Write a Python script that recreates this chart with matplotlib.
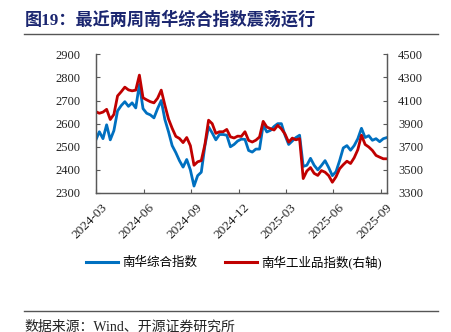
import numpy as np
import pandas as pd
import matplotlib
matplotlib.use('Agg')
import matplotlib.pyplot as plt
import matplotlib.dates as mdates
import matplotlib.transforms as mtransforms
from matplotlib.lines import Line2D

# weekly readings, 2024-03-01 .. 2025-09-12
dates = pd.date_range('2024-03-01', periods=81, freq='7D')
nanhua_composite = [2528, 2565, 2535, 2595, 2530, 2570, 2655, 2678, 2695, 2675,
                    2690, 2668, 2770, 2665, 2645, 2638, 2625, 2665, 2700, 2618,
                    2565, 2505, 2475, 2440, 2412, 2445, 2400, 2330, 2375, 2390,
                    2505, 2586, 2560, 2530, 2553, 2553, 2550, 2500, 2510, 2525,
                    2533, 2532, 2484, 2477, 2490, 2490, 2595, 2564, 2571, 2588,
                    2600, 2600, 2550, 2510, 2525, 2540, 2550, 2415, 2420, 2450,
                    2420, 2400, 2419, 2440, 2410, 2375, 2392, 2440, 2495, 2505,
                    2485, 2505, 2535, 2580, 2540, 2548, 2528, 2535, 2522, 2535,
                    2540]
nanhua_industrial = [4004, 3990, 4000, 4024, 3936, 3980, 4140, 4176, 4216, 4192,
                     4184, 4190, 4320, 4124, 4106, 4090, 4080, 4120, 4190, 4060,
                     3940, 3860, 3790, 3772, 3736, 3780, 3710, 3540, 3570, 3580,
                     3720, 3930, 3900, 3816, 3830, 3830, 3850, 3786, 3776, 3792,
                     3790, 3830, 3755, 3741, 3757, 3785, 3920, 3871, 3857, 3845,
                     3885, 3855, 3810, 3740, 3775, 3760, 3770, 3425, 3490, 3520,
                     3470, 3452, 3494, 3480, 3450, 3393, 3440, 3510, 3545, 3575,
                     3555, 3605, 3675, 3800, 3720, 3698, 3668, 3625, 3610, 3596,
                     3596]

title = '图19：最近两周南华综合指数震荡运行'
source = '数据来源：Wind、开源证券研究所'
labels = ['南华综合指数', '南华工业品指数(右轴)']

fam = ['Liberation Serif', 'Noto Sans CJK SC']
plt.rcParams['font.family'] = fam
plt.rcParams['axes.unicode_minus'] = False

blue = '#0070c0'
red = '#c00000'
spine_c = '#595959'

fig = plt.figure(figsize=(4.51, 3.32), dpi=100)
ax = fig.add_axes([0.2122, 0.4187, 0.8580 - 0.2122, 0.8364 - 0.4187])
ax2 = ax.twinx()

ax.plot(dates, nanhua_composite, color=blue, lw=2.0)
ax2.plot(dates, nanhua_industrial, color=red, lw=2.0)

ax.set_ylim(2300, 2900)
ax.set_yticks(np.arange(2300, 2901, 100))
ax2.set_ylim(3300, 4500)
ax2.set_yticks(np.arange(3300, 4501, 200))
ax.set_xlim(pd.Timestamp('2024-03-01'), pd.Timestamp('2025-09-12'))
ax.xaxis.set_major_locator(mdates.MonthLocator(bymonth=[3, 6, 9, 12]))
ax.xaxis.set_major_formatter(mdates.DateFormatter('%Y-%m'))

for a in (ax, ax2):
    a.spines['top'].set_visible(False)
    for s in ('left', 'right', 'bottom'):
        a.spines[s].set_color(spine_c)
        a.spines[s].set_linewidth(0.9)
    a.tick_params(direction='in', length=3, width=0.8, color=spine_c,
                  labelsize=9, labelcolor='#222222')
ax.tick_params(axis='y', pad=11)
ax2.tick_params(axis='y', pad=8)
ax.tick_params(axis='x', pad=6, labelsize=9.5)
shift = mtransforms.ScaledTranslation(5 / 100, 0, fig.dpi_scale_trans)
for lab in ax.get_xticklabels():
    lab.set_rotation(45)
    lab.set_ha('right')
    lab.set_rotation_mode('anchor')
    lab.set_transform(lab.get_transform() + shift)

handles = [Line2D([], [], color=blue, lw=2.2), Line2D([], [], color=red, lw=2.2)]
fig.legend(handles, labels, loc='center', bbox_to_anchor=(0.518, 0.211), ncol=2,
           frameon=False, fontsize=9, handlelength=2.6, columnspacing=2.2,
           handletextpad=0.3)

fig.text(0.055, 0.94, title, fontsize=12.3, fontweight='bold', color='#1b2670',
         va='center', ha='left')
fig.add_artist(Line2D([0.053, 0.971], [0.8976, 0.8976], color='#555555', lw=1.0))
fig.add_artist(Line2D([0.053, 0.971], [0.0633, 0.0633], color='#555555', lw=1.0))
fig.text(0.055, 0.016, source, fontsize=10, color='#222222', va='center', ha='left')

fig.savefig('out.png', dpi=100)
